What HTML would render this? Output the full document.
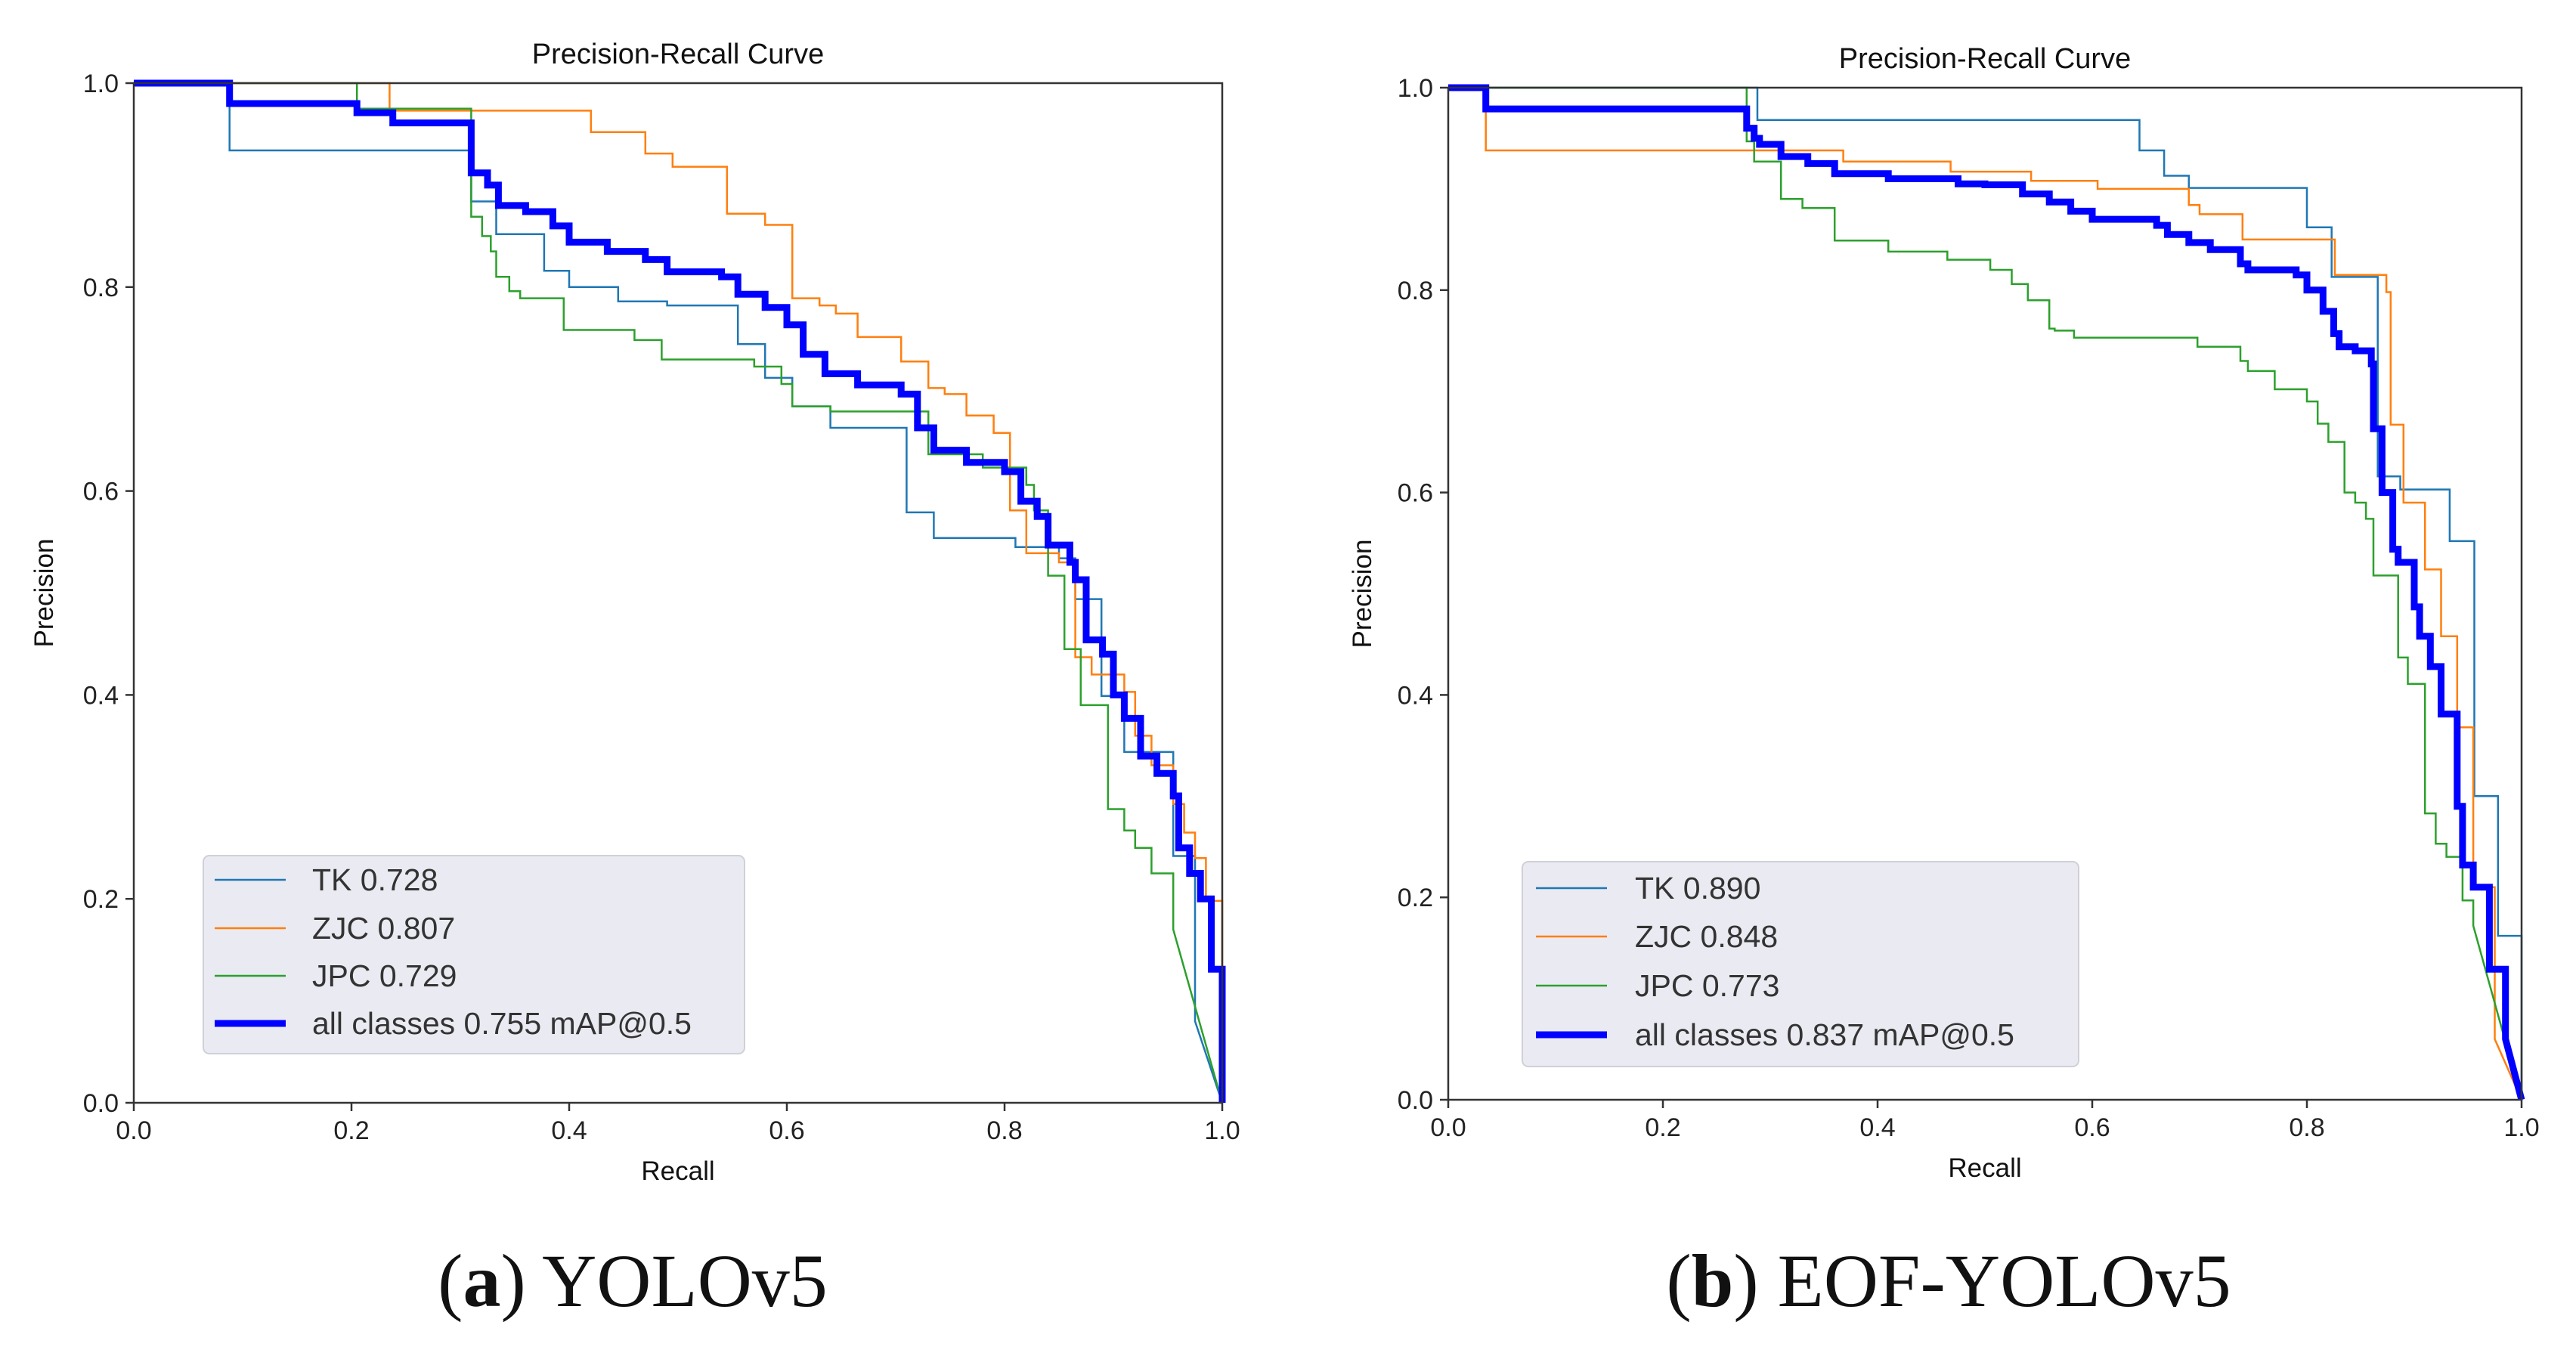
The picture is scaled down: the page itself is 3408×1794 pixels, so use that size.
<!DOCTYPE html>
<html><head><meta charset="utf-8"><style>
html,body{margin:0;padding:0;background:#fff;}
svg{display:block;}
text{font-family:"Liberation Sans","DejaVu Sans",sans-serif;}
</style></head><body>
<svg id="fig" width="3408" height="1794" viewBox="0 0 3408 1794" xmlns="http://www.w3.org/2000/svg">
<rect width="3408" height="1794" fill="#fff"/>
</svg>
<script>
// ---------- data: chart (a) YOLOv5 ----------
const xTicks = [0, 0.2, 0.4, 0.6, 0.8, 1.0];
const yTicks = [0, 0.2, 0.4, 0.6, 0.8, 1.0];
const tickLabels = ["0.0","0.2","0.4","0.6","0.8","1.0"];

const aTkR = [0,0.088,0.31,0.333,0.377,0.40,0.445,0.49,0.555,0.58,0.605,0.64,0.71,0.735,0.81,0.85,0.865,0.889,0.91,0.955,0.975,1.0];
const aTkP = [1,0.934,0.884,0.852,0.816,0.80,0.786,0.782,0.744,0.711,0.683,0.662,0.579,0.554,0.545,0.534,0.494,0.399,0.344,0.242,0.08,0.0];
const aZjcR = [0,0.235,0.42,0.47,0.495,0.545,0.58,0.605,0.63,0.645,0.665,0.705,0.73,0.745,0.765,0.79,0.805,0.82,0.85,0.865,0.88,0.91,0.92,0.935,0.955,0.965,0.975,0.985,1.0];
const aZjcP = [1,0.973,0.952,0.931,0.918,0.872,0.861,0.789,0.782,0.774,0.751,0.727,0.701,0.695,0.674,0.657,0.581,0.539,0.53,0.437,0.42,0.403,0.36,0.331,0.293,0.265,0.24,0.198,0.0];
const aJpcR = [0,0.205,0.31,0.32,0.328,0.333,0.345,0.355,0.395,0.46,0.485,0.57,0.595,0.605,0.64,0.73,0.78,0.82,0.827,0.84,0.855,0.87,0.895,0.91,0.92,0.935,0.955,1.0];
const aJpcP = [1,0.975,0.869,0.85,0.835,0.81,0.796,0.789,0.758,0.748,0.729,0.722,0.705,0.683,0.678,0.636,0.623,0.606,0.581,0.517,0.445,0.39,0.288,0.267,0.25,0.225,0.17,0.0];
const aAllR = [0,0.088,0.205,0.238,0.31,0.325,0.335,0.36,0.385,0.40,0.435,0.47,0.49,0.54,0.555,0.58,0.60,0.615,0.635,0.665,0.705,0.72,0.735,0.765,0.80,0.815,0.83,0.84,0.86,0.865,0.875,0.89,0.90,0.91,0.925,0.94,0.955,0.96,0.97,0.98,0.99,1.0];
const aAllP = [1,0.98,0.971,0.961,0.912,0.90,0.88,0.874,0.86,0.844,0.835,0.827,0.815,0.81,0.793,0.78,0.763,0.734,0.715,0.704,0.695,0.662,0.64,0.628,0.619,0.59,0.575,0.547,0.53,0.513,0.454,0.44,0.40,0.377,0.34,0.323,0.301,0.25,0.225,0.2,0.131,0.0];

// ---------- data: chart (b) EOF-YOLOv5 ----------
const bTkR = [0,0.288,0.644,0.667,0.69,0.80,0.823,0.866,0.887,0.933,0.956,0.978,1.0];
const bTkP = [1,0.968,0.938,0.913,0.901,0.862,0.813,0.616,0.603,0.552,0.30,0.162,0.0];
const bZjcR = [0,0.035,0.368,0.468,0.543,0.605,0.69,0.70,0.74,0.826,0.874,0.878,0.89,0.91,0.925,0.94,0.955,0.975,1.0];
const bZjcP = [1,0.938,0.927,0.917,0.908,0.90,0.884,0.875,0.85,0.815,0.798,0.667,0.59,0.524,0.458,0.368,0.21,0.06,0.0];
const bJpcR = [0,0.278,0.285,0.31,0.33,0.36,0.41,0.465,0.505,0.525,0.54,0.56,0.565,0.583,0.698,0.738,0.745,0.77,0.80,0.81,0.82,0.835,0.845,0.855,0.862,0.885,0.894,0.91,0.92,0.93,0.945,0.955,1.0];
const bJpcP = [1,0.947,0.927,0.89,0.881,0.849,0.838,0.83,0.82,0.806,0.79,0.762,0.76,0.753,0.744,0.73,0.72,0.702,0.69,0.668,0.65,0.60,0.59,0.574,0.518,0.437,0.411,0.283,0.253,0.24,0.197,0.172,0.0];
const bAllR = [0,0.035,0.278,0.285,0.29,0.31,0.335,0.36,0.41,0.475,0.50,0.535,0.56,0.58,0.60,0.66,0.67,0.69,0.71,0.738,0.745,0.79,0.80,0.815,0.825,0.83,0.845,0.86,0.862,0.87,0.88,0.885,0.90,0.905,0.915,0.925,0.94,0.945,0.955,0.97,0.985,1.0];
const bAllP = [1,0.979,0.96,0.95,0.944,0.932,0.925,0.915,0.91,0.905,0.904,0.895,0.887,0.878,0.87,0.864,0.855,0.847,0.84,0.826,0.82,0.815,0.80,0.779,0.757,0.744,0.74,0.727,0.663,0.60,0.544,0.531,0.487,0.458,0.428,0.381,0.29,0.232,0.21,0.129,0.06,0.0];

const NS = "http://www.w3.org/2000/svg";
const svg = document.getElementById("fig");
function mk(tag, attrs, parent){ const e=document.createElementNS(NS,tag); for(const k in attrs) e.setAttribute(k,attrs[k]); (parent||svg).appendChild(e); return e; }

function drawChart(cfg){
  const g = mk("g",{});
  
  
  const xs = v => cfg.x0 + v*(cfg.x1-cfg.x0);
  const ys = v => cfg.y1 - v*(cfg.y1-cfg.y0);
  cfg.series.forEach(s=>{
    let pts = [[xs(s.r[0]), ys(s.p[0])]];
    for(let i=1;i<s.r.length;i++){
      if(i===s.r.length-1 && s.linearLast){ pts.push([xs(s.r[i]), ys(s.p[i])]); }
      else { pts.push([xs(s.r[i]), ys(s.p[i-1])]); pts.push([xs(s.r[i]), ys(s.p[i])]); }
    }
    const pl = mk("polyline",{points:pts.map(p=>p[0].toFixed(1)+","+p[1].toFixed(1)).join(" "),fill:"none",stroke:s.color,"stroke-width":s.w,"stroke-linejoin":"miter"},g);
    
    
  });
  const fr = mk("rect",{x:cfg.x0,y:cfg.y0,width:cfg.x1-cfg.x0,height:cfg.y1-cfg.y0,fill:"none",stroke:"#333","stroke-width":2.5},g);
  
  
  xTicks.forEach((t,i)=>{
    const x=xs(t);
    mk("line",{x1:x,y1:cfg.y1,x2:x,y2:cfg.y1+11,stroke:"#333","stroke-width":2.5},g);
    const tx=mk("text",{x:x,y:cfg.y1+48,"font-size":34,"text-anchor":"middle",fill:"#222"},g);
    tx.textContent=tickLabels[i];
    
    
  });
  yTicks.forEach((t,i)=>{
    const y=ys(t);
    mk("line",{x1:cfg.x0-11,y1:y,x2:cfg.x0,y2:y,stroke:"#333","stroke-width":2.5},g);
    const tx=mk("text",{x:cfg.x0-20,y:y+12,"font-size":34,"text-anchor":"end",fill:"#222"},g);
    tx.textContent=tickLabels[i];
    
    
  });
  const title=mk("text",{x:(cfg.x0+cfg.x1)/2,y:cfg.y0-26,"font-size":38,"text-anchor":"middle",fill:"#111"},g);
  title.textContent="Precision-Recall Curve";
  
  
  const xl=mk("text",{x:(cfg.x0+cfg.x1)/2,y:cfg.y1+102,"font-size":35,"text-anchor":"middle",fill:"#111"},g);
  xl.textContent="Recall";
  
  
  const yc=(cfg.y0+cfg.y1)/2;
  const yl=mk("text",{x:cfg.ylx,y:yc,"font-size":35,"text-anchor":"middle",fill:"#111",transform:`rotate(-90 ${cfg.ylx} ${yc})`},g);
  yl.textContent="Precision";
  
  
  const L=cfg.legend;
  const lg=mk("g",{},g);
  
  
  mk("rect",{x:L.x,y:L.y,width:L.w,height:L.h,rx:8,fill:"#eaeaf2",stroke:"#d0d0d8","stroke-width":2},lg);
  cfg.series.forEach((s,i)=>{
    const y=L.rows[i];
    const ln=mk("line",{x1:L.lx1,y1:y,x2:L.lx2,y2:y,stroke:s.color,"stroke-width":s.w},lg);
    
    
    const t=mk("text",{x:L.tx,y:y+14,"font-size":41,fill:"#333"},lg);
    t.textContent=s.label;
    
    
  });
  const cap=mk("text",{x:cfg.capX,y:1728,"font-size":100,"text-anchor":"middle",fill:"#111",style:'font-family:"Liberation Serif","DejaVu Serif",serif'},g);
  const b=document.createElementNS(NS,"tspan"); b.setAttribute("font-weight","bold");
  cap.appendChild(document.createTextNode("("));
  b.textContent=cfg.capLetter; cap.appendChild(b);
  cap.appendChild(document.createTextNode(") "+cfg.capText));
  
  
}

drawChart({name:"chart-a-yolov5",x0:177,x1:1617,y0:110,y1:1459,ylx:70,capX:837,capLetter:"a",capText:"YOLOv5",
  legend:{x:269,y:1132,w:716,h:262,lx1:284,lx2:378,tx:413,rows:[1164,1228,1291,1354]},
  series:[
    {id:"tk",label:"TK 0.728",color:"#1f77b4",w:2.5,r:aTkR,p:aTkP,linearLast:true},
    {id:"zjc",label:"ZJC 0.807",color:"#ff7f0e",w:2.5,r:aZjcR,p:aZjcP,linearLast:false},
    {id:"jpc",label:"JPC 0.729",color:"#2ca02c",w:2.5,r:aJpcR,p:aJpcP,linearLast:true},
    {id:"all",label:"all classes 0.755 mAP@0.5",color:"#0000ff",w:9,r:aAllR,p:aAllP,linearLast:false}
  ]});
drawChart({name:"chart-b-eof-yolov5",x0:1916,x1:3336,y0:116,y1:1455,ylx:1814,capX:2578,capLetter:"b",capText:"EOF-YOLOv5",
  legend:{x:2014,y:1140,w:736,h:271,lx1:2032,lx2:2126,tx:2163,rows:[1175,1239,1304,1369]},
  series:[
    {id:"tk",label:"TK 0.890",color:"#1f77b4",w:2.5,r:bTkR,p:bTkP,linearLast:false},
    {id:"zjc",label:"ZJC 0.848",color:"#ff7f0e",w:2.5,r:bZjcR,p:bZjcP,linearLast:true},
    {id:"jpc",label:"JPC 0.773",color:"#2ca02c",w:2.5,r:bJpcR,p:bJpcP,linearLast:true},
    {id:"all",label:"all classes 0.837 mAP@0.5",color:"#0000ff",w:9,r:bAllR,p:bAllP,linearLast:true}
  ]});
</script>
</body></html>
